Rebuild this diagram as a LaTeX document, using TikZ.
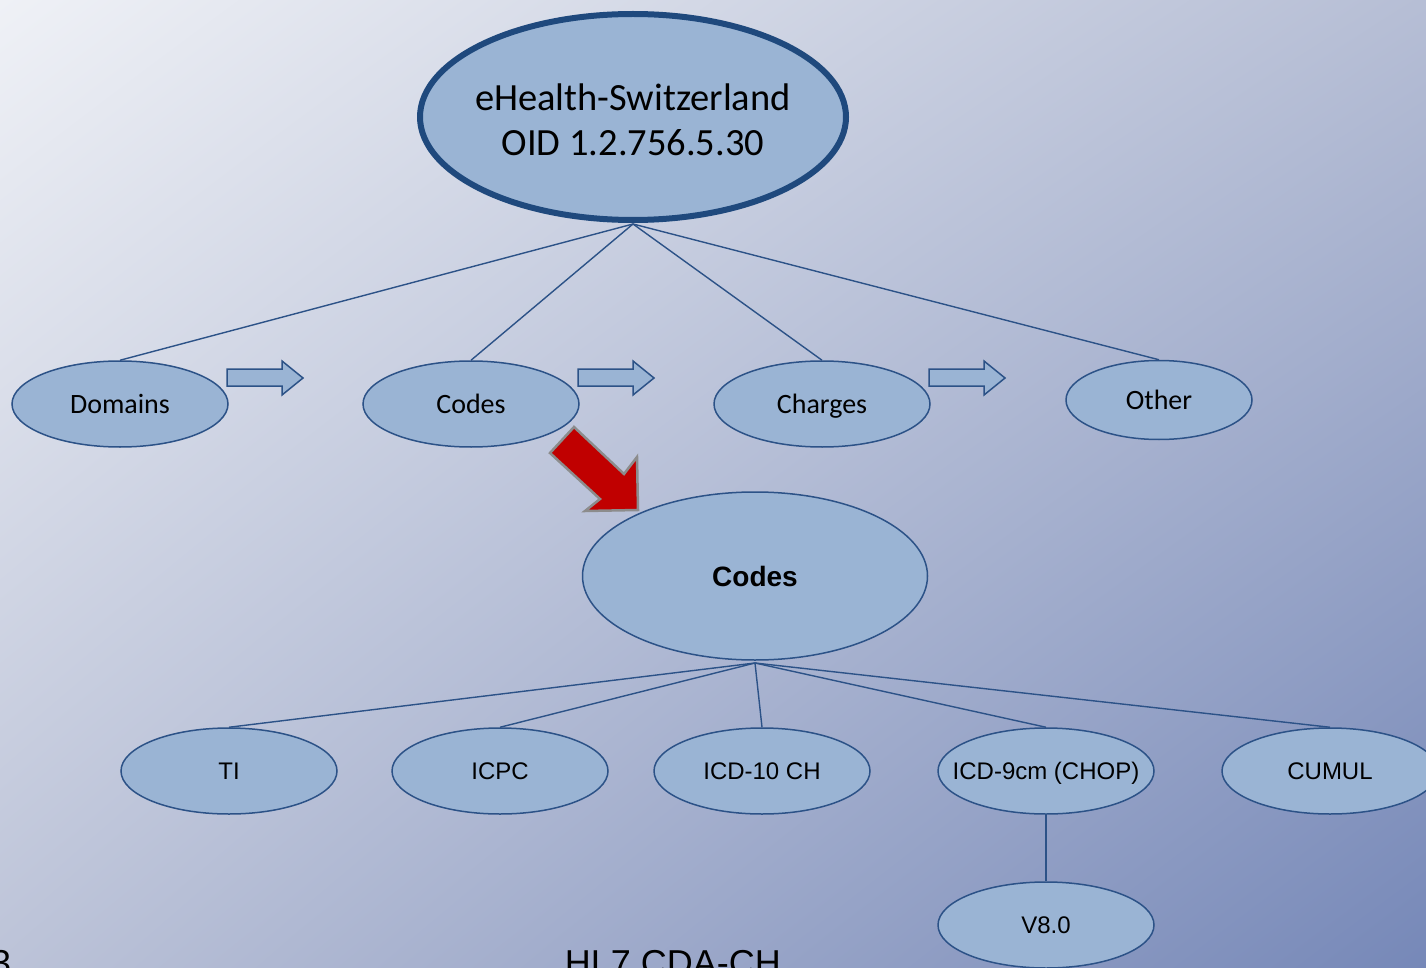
\documentclass[tikz,border=0pt]{standalone}
\usepackage{fontspec}
\setmainfont{Carlito}
\newfontfamily\arialf{Liberation Sans}
\usetikzlibrary{shapes.geometric,shadings}
\definecolor{nodefill}{HTML}{9AB4D4}
\definecolor{edgeblue}{HTML}{2C5287}
\definecolor{rootedge}{HTML}{1F497D}
\definecolor{bgtl}{HTML}{EFF1F6}
\definecolor{bgtr}{HTML}{B6BED5}
\definecolor{bgbl}{HTML}{BCC3D8}
\definecolor{bgbr}{HTML}{7688B8}
\definecolor{redfill}{HTML}{C00000}
\definecolor{rededge}{HTML}{8C8C8C}
\begin{document}
\begin{tikzpicture}[x=1pt,y=-1pt,
  bub/.style={ellipse, draw=edgeblue, line width=1.5pt, fill=nodefill, inner sep=0pt,
    minimum width=216pt, minimum height=86pt, text=black},
  calbub/.style={bub, font=\fontsize{28}{32}\selectfont, text height=22pt, text depth=4pt},
  arbub/.style={bub, font=\arialf\fontsize{24}{28}\selectfont, inner xsep=-30pt,
    text height=20pt, text depth=3pt},
  rootbub/.style={ellipse, draw=rootedge, line width=6pt, fill=nodefill, inner sep=0pt,
    inner xsep=-60pt, minimum width=426pt, minimum height=206pt, align=center,
    font=\fontsize{38.5}{45}\selectfont},
  link/.style={draw=edgeblue, line width=1.4pt},
  blockarrow/.style={draw=edgeblue, line width=1.5pt, fill=nodefill, line join=miter},
  redarrow/.style={draw=rededge, line width=2.5pt, fill=redfill, line join=miter},
  foot/.style={font=\arialf\fontsize{36}{40}\selectfont, inner sep=0pt}
]
\useasboundingbox (0,0) rectangle (1426,968);
\clip (0,0) rectangle (1426,968);
\shade[upper left=bgtl, upper right=bgtr, lower left=bgbl, lower right=bgbr] (0,0) rectangle (1426,968);

% top level
\node[rootbub] (root) at (633,117) {};
\node[font=\fontsize{38.5}{45}\selectfont, align=center, inner sep=0pt] (roottext) at (633,120) {eHealth-Switzerland\\OID 1.2.756.5.30};
\node[calbub] (domains) at (120,404) {Domains};
\node[calbub] (codes) at (471,404) {Codes};
\node[calbub] (charges) at (822,404) {Charges};
\node[calbub, minimum width=186pt, minimum height=79pt] (other) at (1159,400) {Other};

\coordinate (rootbot) at (633,224);
\draw[link] (rootbot) -- (domains.north);
\draw[link] (rootbot) -- (codes.north);
\draw[link] (rootbot) -- (charges.north);
\draw[link] (rootbot) -- (other.north);

% block arrows
\foreach \dx in {0,351,702}{
  \draw[blockarrow] (227+\dx,369) -- (282+\dx,369) -- (282+\dx,361) -- (303+\dx,378)
    -- (282+\dx,395) -- (282+\dx,386) -- (227+\dx,386) -- cycle;
}

% red arrow
\draw[redarrow] (574,427) -- (624,474) -- (637,457) -- (638,510) -- (585,511)
  -- (600,499) -- (550,453) -- cycle;

% codes subtree
\node[bub, minimum width=345pt, minimum height=168pt,
  font=\arialf\bfseries\fontsize{28}{32}\selectfont] (codesbig) at (755,576) {Codes};
\node[arbub] (ti) at (229,771) {TI};
\node[arbub] (icpc) at (500,771) {ICPC};
\node[arbub] (icd10) at (762,771) {ICD-10 CH};
\node[arbub] (icd9) at (1046,771) {ICD-9cm (CHOP)};
\node[arbub] (cumul) at (1330,771) {CUMUL};
\node[arbub] (v8) at (1046,925) {V8.0};

\coordinate (codesbot) at (755,663);
\draw[link] (codesbot) -- (ti.north);
\draw[link] (codesbot) -- (icpc.north);
\draw[link] (codesbot) -- (icd10.north);
\draw[link] (codesbot) -- (icd9.north);
\draw[link] (codesbot) -- (cumul.north);
\draw[link] (icd9.south) -- (v8.north);

% footer
\node[foot, anchor=base] (title) at (673,975) {HL7 CDA-CH};
\node[foot, anchor=base west] (pagenum) at (-9,975) {3};
\end{tikzpicture}
\end{document}
